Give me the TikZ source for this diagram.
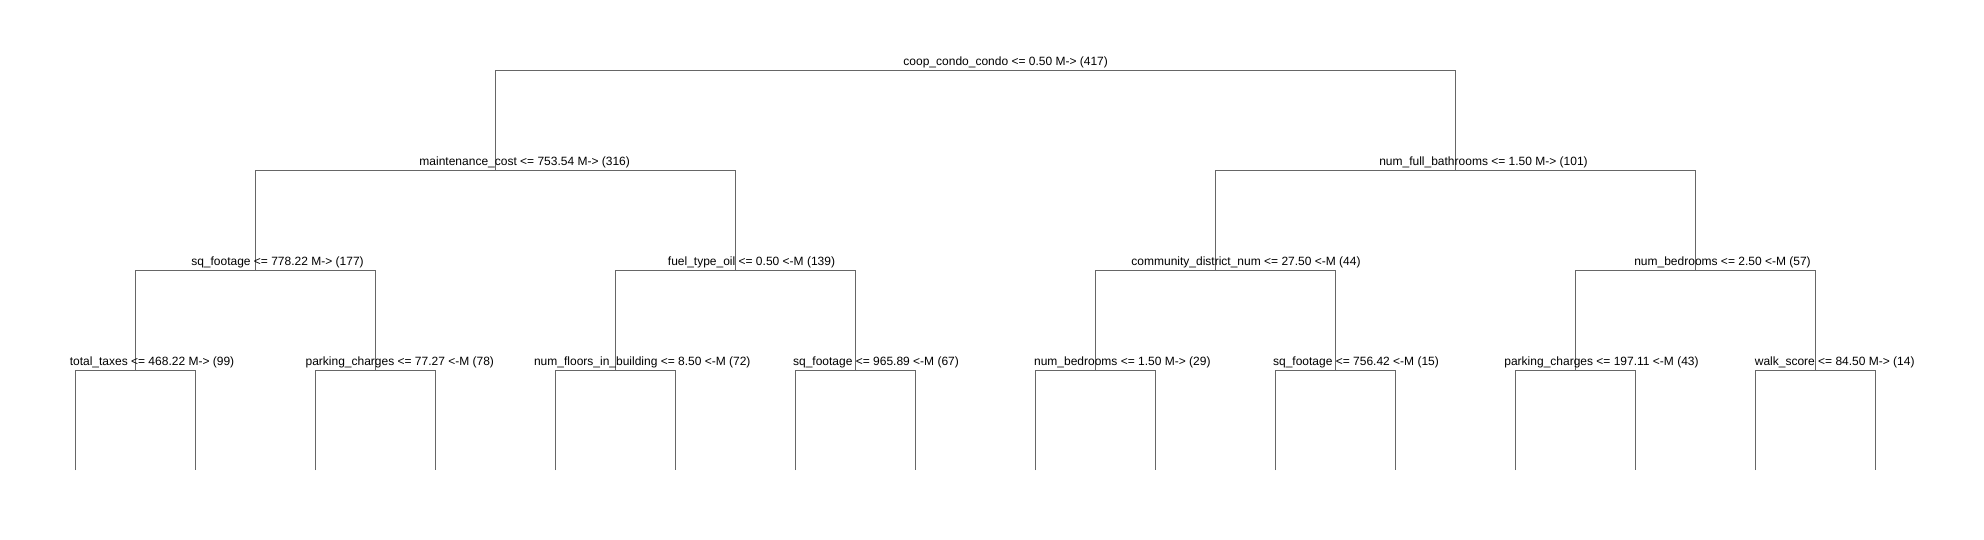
\documentclass[tikz,border=0pt]{standalone}
\usepackage{fontspec}
\setmainfont{Liberation Sans}
\definecolor{linegray}{RGB}{102,102,102}
\begin{document}
\begin{tikzpicture}[x=1pt,y=-1pt,
  edge/.style={draw=linegray,line width=1pt},
  lbl/.style={anchor=base,inner sep=0pt,font=\fontsize{12}{14}\selectfont}]
\useasboundingbox[fill=white] (0,0) rectangle (1984,540);
% split points
\coordinate (n0) at (975.3,70.3);
\coordinate (n1) at (495.3,170.3);
\coordinate (n2) at (1455.3,170.3);
\coordinate (n3) at (255.3,270.3);
\coordinate (n4) at (735.3,270.3);
\coordinate (n5) at (1215.3,270.3);
\coordinate (n6) at (1695.3,270.3);
\coordinate (n7) at (135.3,370.3);
\coordinate (n8) at (375.3,370.3);
\coordinate (n9) at (615.3,370.3);
\coordinate (n10) at (855.3,370.3);
\coordinate (n11) at (1095.3,370.3);
\coordinate (n12) at (1335.3,370.3);
\coordinate (n13) at (1575.3,370.3);
\coordinate (n14) at (1815.3,370.3);
% leaf ends
\foreach \i [evaluate=\i as \xx using 75.3+120*(\i-1)] in {1,...,16}
  \coordinate (l\i) at (\xx,470);
% connectors
\draw[edge] (n1) |- (n0) -| (n2);
\draw[edge] (n3) |- (n1) -| (n4);
\draw[edge] (n5) |- (n2) -| (n6);
\draw[edge] (n7) |- (n3) -| (n8);
\draw[edge] (n9) |- (n4) -| (n10);
\draw[edge] (n11) |- (n5) -| (n12);
\draw[edge] (n13) |- (n6) -| (n14);
\foreach \p/\a/\b in {n7/l1/l2,n8/l3/l4,n9/l5/l6,n10/l7/l8,n11/l9/l10,n12/l11/l12,n13/l13/l14,n14/l15/l16}
  \draw[edge] (\a) |- (\p) -| (\b);
% labels
\node[lbl] (t0) at (1005.7,65.3) {coop\_condo\_condo <= 0.50 M-> (417)};
\node[lbl] (t1) at (524.7,165.3) {maintenance\_cost <= 753.54 M-> (316)};
\node[lbl] (t2) at (1483.5,165.3) {num\_full\_bathrooms <= 1.50 M-> (101)};
\node[lbl] (t3) at (277.5,265.3) {sq\_footage <= 778.22 M-> (177)};
\node[lbl] (t4) at (751.5,265.3) {fuel\_type\_oil <= 0.50 <-M (139)};
\node[lbl] (t5) at (1246,265.3) {community\_district\_num <= 27.50 <-M (44)};
\node[lbl] (t6) at (1722.5,265.3) {num\_bedrooms <= 2.50 <-M (57)};
\node[lbl] (t7) at (152,365.3) {total\_taxes <= 468.22 M-> (99)};
\node[lbl] (t8) at (399.8,365.3) {parking\_charges <= 77.27 <-M (78)};
\node[lbl] (t9) at (642.3,365.3) {num\_floors\_in\_building <= 8.50 <-M (72)};
\node[lbl] (t10) at (876,365.3) {sq\_footage <= 965.89 <-M (67)};
\node[lbl] (t11) at (1122.3,365.3) {num\_bedrooms <= 1.50 M-> (29)};
\node[lbl] (t12) at (1356,365.3) {sq\_footage <= 756.42 <-M (15)};
\node[lbl] (t13) at (1601.5,365.3) {parking\_charges <= 197.11 <-M (43)};
\node[lbl] (t14) at (1834.7,365.3) {walk\_score <= 84.50 M-> (14)};
\end{tikzpicture}
\end{document}
